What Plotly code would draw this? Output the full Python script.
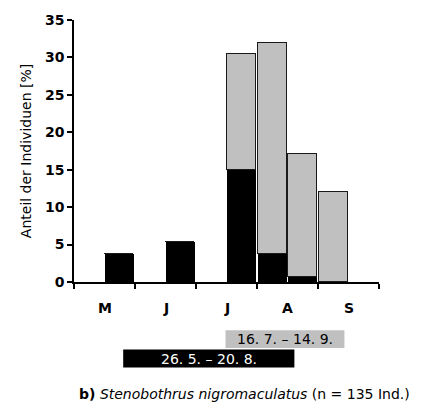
import plotly.graph_objects as go

# Half-month bins (0 = May 1st half, 1 = May 2nd half, ...)
months = ["M", "J", "J", "A", "S"]
bins = ["Mai 2", "Jun 2", "Jul 2", "Aug 1", "Aug 2", "Sep 1"]
bin_index = [1, 3, 5, 6, 7, 8]
black_vals = [3.8, 5.3, 14.9, 3.8, 0.7, 0.0]
grey_vals = [0.0, 0.0, 15.6, 28.1, 16.4, 12.0]

# Date ranges (day, month) shown beneath the axis
grey_range = [(16, 7), (14, 9)]
grey_label = "16. 7. – 14. 9."
black_range = [(26, 5), (20, 8)]
black_label = "26. 5. – 20. 8."

days_in_month = {5: 31, 6: 30, 7: 31, 8: 31, 9: 30}


def date_pos(d, m):
    return (m - 5) + (d - 1) / days_in_month[m]


xpos = [(i + 0.5) / 2 for i in bin_index]
font = "DejaVu Sans, Liberation Sans, Arial, sans-serif"

fig = go.Figure()
fig.add_trace(go.Bar(
    x=xpos, y=black_vals, width=0.47, name="schwarz",
    marker=dict(color="black", line=dict(color="black", width=0)),
    hovertext=bins,
))
fig.add_trace(go.Bar(
    x=xpos, y=grey_vals, width=0.47, name="grau",
    marker=dict(color="#c0c0c0", line=dict(color="#1a1a1a", width=1.5)),
    hovertext=bins,
))

shapes = []
annotations = []
# month labels
for i, m in enumerate(months):
    annotations.append(dict(
        x=i + 0.5, y=-0.098, xref="x", yref="paper", text=m, showarrow=False,
        font=dict(family=font, size=14, color="black", weight="bold"),
        xanchor="center", yanchor="middle",
    ))

# range boxes
for rng, label, fill, tcol, y0, y1 in [
    (grey_range, grey_label, "#c0c0c0", "black", -0.252, -0.184),
    (black_range, black_label, "black", "white", -0.326, -0.258),
]:
    x0 = date_pos(*rng[0])
    x1 = date_pos(*rng[1])
    shapes.append(dict(type="rect", xref="x", yref="paper", x0=x0, x1=x1,
                       y0=y0, y1=y1, fillcolor=fill, line=dict(width=0),
                       layer="above"))
    annotations.append(dict(
        x=(x0 + x1) / 2, y=(y0 + y1) / 2, xref="x", yref="paper", text=label,
        showarrow=False, font=dict(family=font, size=14, color=tcol),
        xanchor="center", yanchor="middle",
    ))

annotations.append(dict(
    x=0.0098, y=-0.428, xref="paper", yref="paper",
    text="<b>b)</b> <i>Stenobothrus nigromaculatus</i> (n = 135 Ind.)",
    showarrow=False, font=dict(family=font, size=14, color="black"),
    xanchor="left", yanchor="middle",
))

fig.update_layout(
    width=428, height=414,
    margin=dict(l=74, r=49, t=18, b=132),
    barmode="stack", bargap=0,
    showlegend=False,
    plot_bgcolor="white", paper_bgcolor="white",
    shapes=shapes, annotations=annotations,
    xaxis=dict(
        range=[0, 5], showgrid=False, zeroline=False,
        showline=True, linecolor="black", linewidth=1.5,
        tickvals=[0, 1, 2, 3, 4, 5], ticktext=[""] * 6,
        ticks="outside", ticklen=5, tickwidth=1.5, tickcolor="black",
    ),
    yaxis=dict(
        range=[0, 35], showgrid=False, zeroline=False,
        showline=True, linecolor="black", linewidth=1.5,
        tickvals=[0, 5, 10, 15, 20, 25, 30, 35],
        ticks="outside", ticklen=5, tickwidth=1.5, tickcolor="black",
        tickfont=dict(family=font, size=14, color="black", weight="bold"),
        title=dict(text="Anteil der Individuen [%]", standoff=10,
                   font=dict(family=font, size=14, color="black")),
    ),
)

fig.write_html("out.html")
